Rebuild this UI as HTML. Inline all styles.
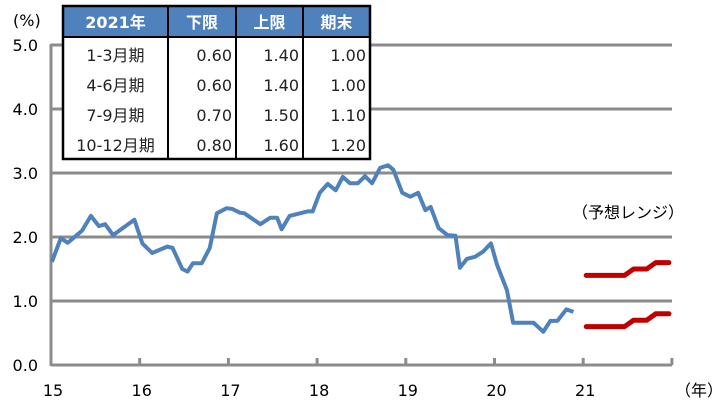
<!DOCTYPE html>
<html><head><meta charset="utf-8"><style>
body{margin:0;background:#fff;width:712px;height:405px;overflow:hidden;font-family:"DejaVu Sans","Noto Sans CJK JP",sans-serif;}
svg text{font-family:"DejaVu Sans","Noto Sans CJK JP",sans-serif;}
</style></head><body>
<svg id="c" width="712" height="405"></svg>
<script>
const yearTicks=[15,16,17,18,19,20,21];
const yTicks=[0,1,2,3,4,5];
const histX=[2015.01,2015.11,2015.19,2015.35,2015.45,2015.54,2015.61,2015.70,2015.94,2016.03,2016.14,2016.31,2016.37,2016.48,2016.54,2016.60,2016.70,2016.79,2016.87,2016.98,2017.04,2017.13,2017.18,2017.36,2017.47,2017.55,2017.60,2017.69,2017.89,2017.95,2018.03,2018.12,2018.21,2018.29,2018.37,2018.46,2018.54,2018.62,2018.71,2018.80,2018.86,2018.96,2019.05,2019.14,2019.22,2019.28,2019.37,2019.47,2019.56,2019.61,2019.69,2019.78,2019.87,2019.96,2020.03,2020.14,2020.21,2020.44,2020.55,2020.63,2020.71,2020.81,2020.89];
const histY=[1.61,1.98,1.91,2.10,2.33,2.17,2.20,2.03,2.27,1.90,1.75,1.85,1.83,1.50,1.46,1.59,1.59,1.83,2.37,2.45,2.44,2.38,2.37,2.20,2.30,2.30,2.12,2.33,2.40,2.40,2.69,2.83,2.73,2.94,2.84,2.84,2.95,2.84,3.08,3.12,3.05,2.69,2.63,2.69,2.42,2.47,2.14,2.03,2.02,1.52,1.66,1.69,1.77,1.90,1.56,1.17,0.66,0.66,0.52,0.69,0.69,0.87,0.83];
const quarters=[0,1,2,3];
const lower=[0.60,0.60,0.70,0.80];
const upper=[1.40,1.40,1.50,1.60];
const tableRows=[["1-3月期","0.60","1.40","1.00"],["4-6月期","0.60","1.40","1.00"],["7-9月期","0.70","1.50","1.10"],["10-12月期","0.80","1.60","1.20"]];
const tableHead=["2021年","下限","上限","期末"];

const NS="http://www.w3.org/2000/svg";
const svg=document.getElementById('c');
const X0=51,YW=88.7,Y0=365,YU=64;
function sx(yr){return X0+(yr-2015)*YW;}
function sy(v){return Y0-v*YU;}
function mk(tag,attrs,parent){const e=document.createElementNS(NS,tag);for(const k in attrs)e.setAttribute(k,attrs[k]);(parent||svg).appendChild(e);return e;}

yTicks.forEach(v=>{
  const l=mk('line',{x1:X0,x2:672,y1:sy(v),y2:sy(v),stroke:'#8c8c8c','stroke-width':3});
  
  
  const t=mk('text',{x:38,y:sy(v)+6,'text-anchor':'end','font-size':16,fill:'#000'});
  t.textContent=v.toFixed(1);
  
  
});
const ya=mk('line',{x1:X0,x2:X0,y1:sy(5)-1,y2:Y0+1,stroke:'#8c8c8c','stroke-width':3});


yearTicks.concat([22]).forEach(y=>{
  const tk=mk('line',{x1:sx(2000+y),x2:sx(2000+y),y1:Y0,y2:Y0-7,stroke:'#8c8c8c','stroke-width':3});
  
  
});
yearTicks.forEach(y=>{
  const t=mk('text',{x:sx(2000+y)+2,y:396,'text-anchor':'middle','font-size':16});
  t.textContent=y;
  
  
});
let t=mk('text',{x:13,y:26,'font-size':16});t.textContent='(%)';


t=mk('text',{x:675,y:396,'font-size':16});t.textContent='（年）';


t=mk('text',{x:572,y:218,'font-size':16});t.textContent='（予想レンジ）';



const hp=mk('polyline',{points:histX.map((x,i)=>sx(x)+','+sy(histY[i])).join(' '),fill:'none',stroke:'#4f81bd','stroke-width':4,'stroke-linejoin':'round'});



function stepPts(arr){const pts=[];const qw=YW/4;quarters.forEach(i=>{const s=sx(2021)+i*qw;pts.push([s+(i==0?3:6),arr[i]]);pts.push([s+qw-3,arr[i]]);});return pts.map(p=>p[0]+','+sy(p[1])).join(' ');}
[['forecast-lower-line',lower],['forecast-upper-line',upper]].forEach(([n,a])=>{
  const p=mk('polyline',{points:stepPts(a),fill:'none',stroke:'#c00000','stroke-width':5,'stroke-linecap':'round','stroke-linejoin':'round'});
  
  
});

const g=mk('g',{});


const cx=[63,168,236,303,370];
mk('rect',{x:63,y:6,width:307,height:31,fill:'#4f81bd'},g);
mk('rect',{x:63,y:37,width:307,height:122,fill:'#fff'},g);
mk('rect',{x:63,y:6,width:307,height:153,fill:'none',stroke:'#000','stroke-width':2.5},g);
cx.slice(1,4).forEach(x=>mk('line',{x1:x,x2:x,y1:6,y2:159,stroke:'#000','stroke-width':2},g));
mk('line',{x1:63,x2:370,y1:37,y2:37,stroke:'#000','stroke-width':2},g);
tableHead.forEach((h,i)=>{
  const e=mk('text',{x:(cx[i]+cx[i+1])/2,y:28,'text-anchor':'middle','font-size':16,'font-weight':'bold',fill:'#fff'},g);
  e.textContent=h;
  
  
});
tableRows.forEach((r,j)=>{
  const yy=61+j*30;
  r.forEach((c,i)=>{
    const e=mk('text',{x:i==0?(cx[0]+cx[1])/2:cx[i+1]-4,y:yy,'text-anchor':i==0?'middle':'end','font-size':16,fill:'#222'},g);
    e.textContent=c;
    
    
  });
});
</script>
</body></html>
